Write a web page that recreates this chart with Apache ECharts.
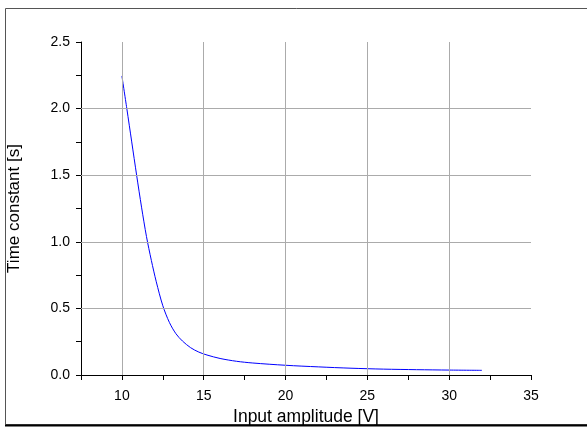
<!DOCTYPE html>
<html>
<head>
<meta charset="utf-8">
<script src="https://cdn.jsdelivr.net/npm/echarts@6/dist/echarts.min.js"></script>
<style>
html,body{margin:0;padding:0;background:#fff;}
#chart{width:587px;height:428px;}
</style>
</head>
<body>
<div id="chart"></div>
<script>
// Data
const xValues = [10.0, 10.3, 10.6, 10.9, 11.2, 11.5, 11.8, 12.1, 12.5, 12.9, 13.3, 13.7, 14.2, 14.7, 15.2, 16.0, 17.0, 18.0, 20.0, 22.0, 24.0, 26.0, 28.0, 30.0, 32.0];
const yValues = [2.245, 2.00, 1.75, 1.50, 1.26, 1.04, 0.86, 0.70, 0.52, 0.395, 0.31, 0.255, 0.205, 0.172, 0.150, 0.124, 0.103, 0.090, 0.073, 0.061, 0.051, 0.044, 0.040, 0.037, 0.035];
const xGridValues = [10, 15, 20, 25, 30];
const yGridValues = [0.5, 1.0, 1.5, 2.0];
const xTitle = 'Input amplitude [V]';
const yTitle = 'Time constant [s]';

const points = xValues.map((x, i) => [x, yValues[i]]);
const FONT = '"Liberation Sans", Arial, sans-serif';

const chart = echarts.init(document.getElementById('chart'), null, {renderer: 'canvas'});
chart.setOption({
  animation: false,
  backgroundColor: '#fff',
  textStyle: {fontFamily: FONT},
  graphic: [
    {type: 'rect', shape: {x: 5.5, y: 8.5, width: 640, height: 416}, style: {fill: 'none', stroke: '#555', lineWidth: 1}, silent: true, z: -10},
    {type: 'line', shape: {x1: 5, y1: 425.5, x2: 587, y2: 425.5}, style: {stroke: '#000', lineWidth: 2}, silent: true, z: -10}
  ],
  grid: {left: 81, right: 56, top: 42, bottom: 53, containLabel: false, outerBoundsMode: 'none'},
  xAxis: {
    type: 'value', min: 7.5, max: 35, interval: 2.5,
    name: xTitle, nameLocation: 'middle', nameGap: 31,
    nameTextStyle: {fontSize: 17.5, color: '#000', fontFamily: FONT},
    axisLine: {show: true, onZero: false, lineStyle: {color: '#000', width: 1}},
    axisTick: {show: true, inside: false, length: 5, lineStyle: {color: '#000'}},
    axisLabel: {
      fontSize: 14, color: '#000', margin: 14, fontFamily: FONT,
      showMinLabel: true, showMaxLabel: true,
      formatter: v => (Math.abs(v / 5 - Math.round(v / 5)) < 1e-9 ? String(v) : '')
    },
    splitLine: {show: false}
  },
  yAxis: {
    type: 'value', min: 0, max: 2.5, interval: 0.25,
    name: yTitle, nameLocation: 'middle', nameGap: 58, nameRotate: 90,
    nameTextStyle: {fontSize: 17, color: '#000', fontFamily: FONT},
    axisLine: {show: true, onZero: false, lineStyle: {color: '#000', width: 1}},
    axisTick: {show: true, inside: false, length: 5, lineStyle: {color: '#000'}},
    axisLabel: {
      fontSize: 14, color: '#000', margin: 11, fontFamily: FONT,
      showMinLabel: true, showMaxLabel: true,
      formatter: v => (Math.abs(v * 2 - Math.round(v * 2)) < 1e-9 ? v.toFixed(1) : '')
    },
    splitLine: {show: false}
  },
  series: [
    {
      type: 'line', data: points, z: 1, silent: true,
      showSymbol: false, lineStyle: {opacity: 0, width: 0},
      markLine: {
        silent: true, symbol: ['none', 'none'], label: {show: false},
        lineStyle: {color: '#ababab', type: 'solid', width: 1},
        data: xGridValues.map(v => ({xAxis: v})).concat(yGridValues.map(v => ({yAxis: v})))
      }
    },
    {
      type: 'line', data: points, z: 3,
      showSymbol: false, smooth: 0.3,
      lineStyle: {color: '#0000ff', width: 1}
    }
  ]
});
</script>
</body>
</html>
